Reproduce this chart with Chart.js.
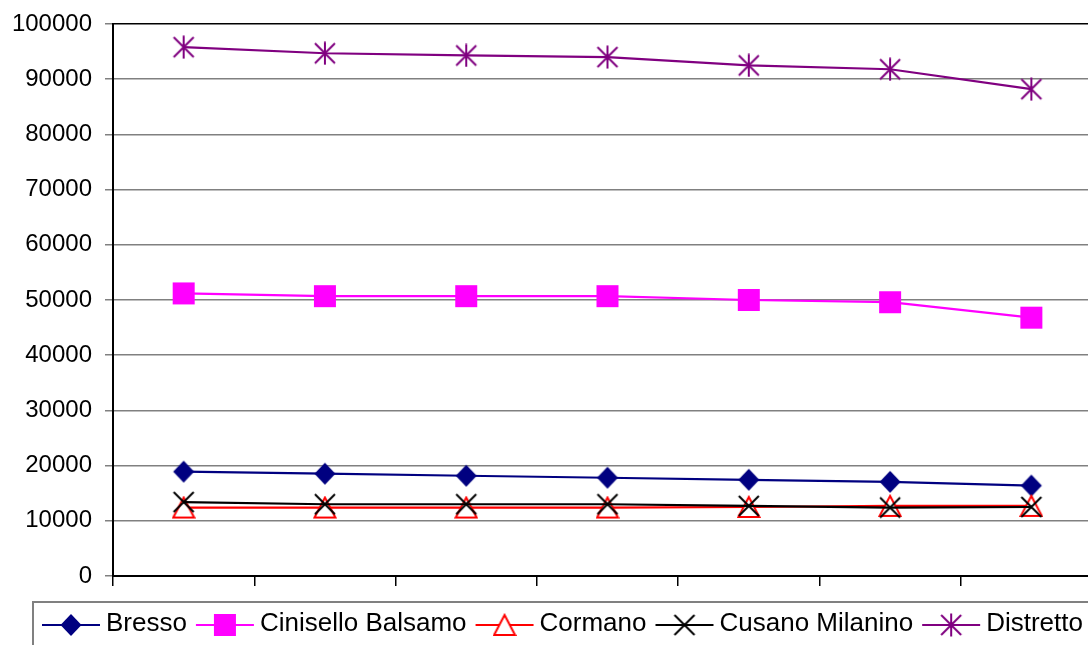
<!DOCTYPE html>
<html>
<head>
<meta charset="utf-8">
<script src="https://cdn.jsdelivr.net/npm/chart.js@4/dist/chart.umd.min.js"></script>
<style>
  html, body { margin: 0; padding: 0; background: #fff; overflow: hidden; }
  #wrap { position: relative; width: 1120px; height: 645px; }
</style>
</head>
<body>
<div id="wrap"><canvas id="chart"></canvas></div>
<script>
// data (7 unlabelled categories)
const categories = ['', '', '', '', '', '', ''];
const bresso = [18900, 18530, 18160, 17800, 17430, 17060, 16380];
const cinisello = [51200, 50700, 50700, 50700, 50000, 49600, 46800];
const cormano = [12400, 12400, 12400, 12400, 12500, 12700, 12700];
const cusano = [13400, 13000, 13000, 13000, 12700, 12400, 12500];
const distretto = [95800, 94700, 94300, 94000, 92500, 91800, 88200];
const yTicks = [0, 10000, 20000, 30000, 40000, 50000, 60000, 70000, 80000, 90000, 100000];

const FONT = '"Liberation Sans", Arial, sans-serif';

// marker images, drawn once and reused for points and legend
function marker(draw) {
    const c = document.createElement('canvas');
    c.width = 24; c.height = 24;
    const g = c.getContext('2d');
    draw(g);
    return c;
}
const diamond = marker(g => {
    g.fillStyle = '#000080';
    g.beginPath();
    g.moveTo(12, 1); g.lineTo(22.5, 12); g.lineTo(12, 23); g.lineTo(1.5, 12);
    g.closePath(); g.fill();
});
const square = marker(g => {
    g.fillStyle = '#FF00FF';
    g.fillRect(1, 1, 22, 22);
});
const triangle = marker(g => {
    g.fillStyle = '#fff';
    g.strokeStyle = '#FF0000';
    g.lineWidth = 2;
    g.beginPath();
    g.moveTo(12, 2); g.lineTo(22.5, 22); g.lineTo(1.5, 22);
    g.closePath(); g.fill(); g.stroke();
});
const cross = marker(g => {
    g.strokeStyle = '#000';
    g.lineWidth = 2;
    g.beginPath();
    g.moveTo(2, 2); g.lineTo(22, 22);
    g.moveTo(22, 2); g.lineTo(2, 22);
    g.stroke();
});
const star = marker(g => {
    g.strokeStyle = '#800080';
    g.lineWidth = 2;
    g.beginPath();
    g.moveTo(2, 2); g.lineTo(22, 22);
    g.moveTo(22, 2); g.lineTo(2, 22);
    g.moveTo(12, 0.5); g.lineTo(12, 23.5);
    g.stroke();
});

const series = [
    { label: 'Bresso', data: bresso, color: '#000080', point: diamond, order: 5 },
    { label: 'Cinisello Balsamo', data: cinisello, color: '#FF00FF', point: square, order: 4 },
    { label: 'Cormano', data: cormano, color: '#FF0000', point: triangle, order: 3 },
    { label: 'Cusano Milanino', data: cusano, color: '#000000', point: cross, order: 2 },
    { label: 'Distretto', data: distretto, color: '#800080', point: star, order: 1 }
];

// legend in a box under the plot, partly cut off like the original
const boxLegend = {
    id: 'boxLegend',
    afterDraw(chart) {
        const ctx = chart.ctx;
        ctx.save();
        ctx.strokeStyle = '#808080';
        ctx.lineWidth = 2;
        ctx.strokeRect(33, 602, 1200, 100);
        ctx.font = '26px ' + FONT;
        ctx.textBaseline = 'alphabetic';
        let x = 42;
        const y = 625;
        series.forEach(s => {
            ctx.strokeStyle = s.color;
            ctx.lineWidth = 2;
            ctx.beginPath();
            ctx.moveTo(x, y); ctx.lineTo(x + 58, y);
            ctx.stroke();
            ctx.drawImage(s.point, x + 29 - 12, y - 12);
            ctx.fillStyle = '#000';
            ctx.fillText(s.label, x + 64, 631);
            x += 64 + ctx.measureText(s.label).width + 9;
        });
        ctx.restore();
    }
};

new Chart(document.getElementById('chart'), {
    type: 'line',
    data: {
        labels: categories,
        datasets: series.map(s => ({
            label: s.label,
            data: s.data,
            borderColor: s.color,
            backgroundColor: s.color,
            borderWidth: 2.2,
            pointStyle: s.point,
            pointRadius: 12,
            tension: 0,
            order: s.order
        }))
    },
    options: {
        responsive: true,
        maintainAspectRatio: false,
        animation: false,
        events: [],
        layout: { padding: { top: 24, right: 18, bottom: 0, left: 0 } },
        plugins: {
            legend: { display: false },
            tooltip: { enabled: false }
        },
        scales: {
            x: {
                type: 'category',
                offset: true,
                afterFit: s => { s.height = 69; s.paddingLeft = 0; s.paddingRight = 0; },
                ticks: { display: false },
                grid: { offset: true, drawOnChartArea: false, drawTicks: true, tickLength: 10, color: '#000', lineWidth: 1.5 },
                border: { color: '#000', width: 2 }
            },
            y: {
                min: 0,
                max: 100000,
                afterFit: s => { s.width = 113; s.paddingTop = 0; s.paddingBottom = 0; },
                afterBuildTicks: s => { s.ticks = yTicks.map(v => ({ value: v })); },
                ticks: {
                    color: '#000',
                    font: { family: FONT, size: 24 },
                    padding: 13,
                    callback: v => String(v)
                },
                grid: {
                    color: c => (c.tick && c.tick.value === 100000 ? '#000' : '#808080'),
                    tickColor: '#808080',
                    lineWidth: 1.5,
                    tickLength: 8
                },
                border: { color: '#000', width: 2 }
            }
        }
    },
    plugins: [boxLegend]
});
</script>
</body>
</html>
